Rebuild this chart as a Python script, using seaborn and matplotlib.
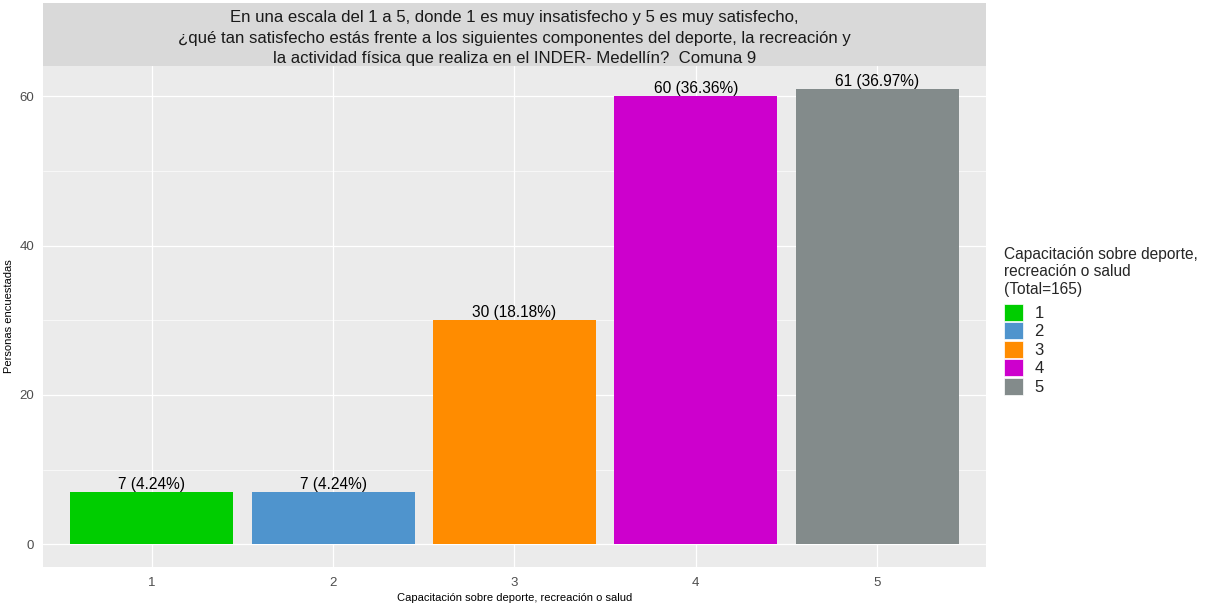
import matplotlib
matplotlib.use('Agg')
import matplotlib.pyplot as plt
import matplotlib.patches as mpatches
import seaborn as sns
import pandas as pd

# Datos
categorias = ['1', '2', '3', '4', '5']
personas = [7, 7, 30, 60, 61]
porcentajes = ['4.24%', '4.24%', '18.18%', '36.36%', '36.97%']
colores = ['#00CD00', '#4F94CD', '#FF8C00', '#CD00CD', '#838B8B']
titulo = ('En una escala del 1 a 5, donde 1 es muy insatisfecho y 5 es muy satisfecho,\n'
          '¿qué tan satisfecho estás frente a los siguientes componentes del deporte, la recreación y\n'
          'la actividad física que realiza en el INDER- Medellín?  Comuna 9')
leyenda_titulo = 'Capacitación sobre deporte,\nrecreación o salud\n(Total=165)'

df = pd.DataFrame({'cat': categorias, 'n': personas})

sns.set_theme(style='darkgrid', rc={'axes.facecolor': '#EBEBEB', 'grid.color': 'white'})
plt.rcParams['font.family'] = ['Liberation Sans', 'DejaVu Sans']

fig = plt.figure(figsize=(12.07, 6.05), dpi=100)
ax = fig.add_axes([0.0356, 0.0628, 0.7813, 0.8281])

sns.barplot(data=df, x='cat', y='n', hue='cat', palette=colores, width=0.9,
            saturation=1, legend=False, linewidth=0, ax=ax)

for i, (v, p) in enumerate(zip(personas, porcentajes)):
    ax.text(i, v, f'{v} ({p})', ha='center', va='bottom', fontsize=11.2, color='black')

ax.set_xlim(-0.6, 4.6)
ax.set_ylim(-3.05, 64.05)
ax.set_yticks([0, 20, 40, 60])
ax.set_yticks([10, 30, 50], minor=True)
ax.grid(which='major', color='white', linewidth=0.9)
ax.grid(which='minor', axis='y', color='white', linewidth=0.45)
ax.tick_params(axis='both', which='major', colors='#4D4D4D', labelsize=9.5, length=3, width=0.8)
ax.tick_params(axis='y', which='minor', length=0)
ax.tick_params(axis='x', pad=4)
for s in ax.spines.values():
    s.set_visible(False)
ax.set_xlabel('Capacitación sobre deporte, recreación o salud', fontsize=8, color='black', labelpad=3)
ax.set_ylabel('Personas encuestadas', fontsize=8, color='black', labelpad=4)

# Franja del título (estilo facet)
strip = fig.add_axes([0.0356, 0.8909, 0.7813, 0.1041])
strip.set_facecolor('#D9D9D9')
strip.set_xticks([])
strip.set_yticks([])
for s in strip.spines.values():
    s.set_visible(False)
strip.text(0.5, 0.44, titulo, ha='center', va='center', fontsize=12.1,
           color='#1A1A1A', linespacing=1.45, transform=strip.transAxes)

# Leyenda
handles = [mpatches.Patch(facecolor=c, edgecolor='white', linewidth=0.5, label=l)
           for c, l in zip(colores, categorias)]
leg = fig.legend(handles=handles, title=leyenda_titulo, loc='upper left',
                 bbox_to_anchor=(0.8265, 0.603), frameon=False, fontsize=12,
                 title_fontsize=11.2, handlelength=1.1, handleheight=1.2,
                 handletextpad=0.7, labelspacing=0.08, borderaxespad=0)
leg._legend_box.align = 'left'
leg._legend_box.sep = 5

fig.savefig('out.png', dpi=100)
